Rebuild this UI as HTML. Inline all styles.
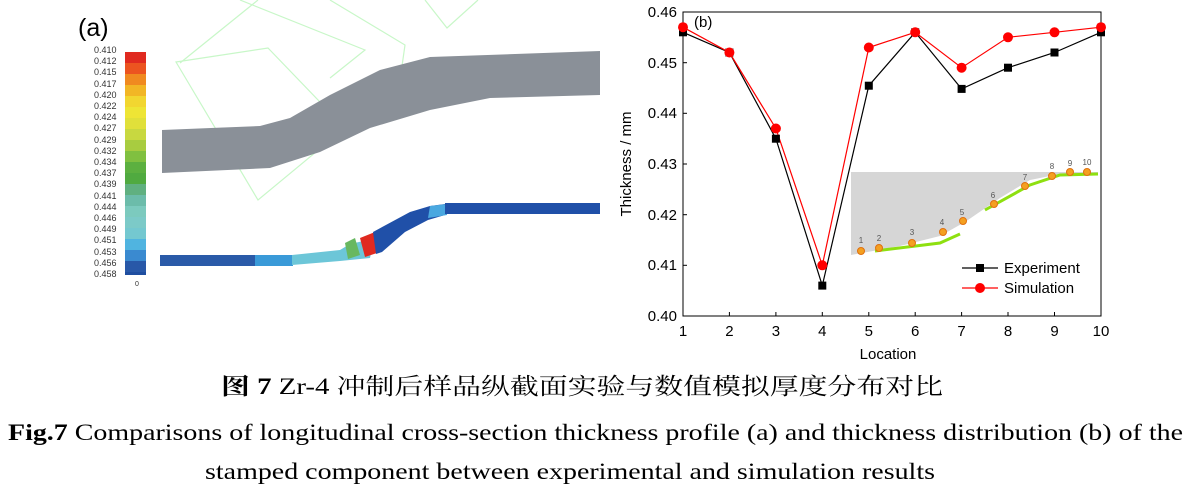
<!DOCTYPE html>
<html><head><meta charset="utf-8"><style>body{margin:0;background:#fff}svg{display:block}</style></head><body>
<svg width="1187" height="494" viewBox="0 0 1187 494" xmlns="http://www.w3.org/2000/svg">
<rect width="1187" height="494" fill="#fff"/>
<!-- watermark -->
<g fill="none" stroke="#c8f7c8" stroke-width="1.2">
<path d="M180 63 L258 0"/>
<path d="M176 62 L258 200 L345 128 L268 48 Z"/>
<path d="M240 0 L365 50 L330 78"/>
<path d="M330 0 L405 45 L400 80"/>
<path d="M425 0 L447 28 L478 0"/>
</g>
<!-- (a) -->
<text x="78" y="36" font-family="Liberation Sans,sans-serif" font-size="25">(a)</text>
<g font-family="Liberation Sans,sans-serif" font-size="9" fill="#333">
<text x="94" y="53">0.410</text><text x="94" y="64">0.412</text><text x="94" y="75">0.415</text><text x="94" y="87">0.417</text><text x="94" y="98">0.420</text><text x="94" y="109">0.422</text><text x="94" y="120">0.424</text><text x="94" y="131">0.427</text><text x="94" y="143">0.429</text><text x="94" y="154">0.432</text><text x="94" y="165">0.434</text><text x="94" y="176">0.437</text><text x="94" y="187">0.439</text><text x="94" y="199">0.441</text><text x="94" y="210">0.444</text><text x="94" y="221">0.446</text><text x="94" y="232">0.449</text><text x="94" y="243">0.451</text><text x="94" y="255">0.453</text><text x="94" y="266">0.456</text><text x="94" y="277">0.458</text>
<text x="135" y="286" font-size="7">0</text>
</g>
<g>
<rect x="125" y="52" width="21" height="11" fill="#e02a20"/><rect x="125" y="63" width="21" height="11" fill="#ec5420"/><rect x="125" y="74" width="21" height="11" fill="#f08a20"/><rect x="125" y="85" width="21" height="11" fill="#f2b625"/><rect x="125" y="96" width="21" height="11" fill="#f2d630"/><rect x="125" y="107" width="21" height="11" fill="#eee535"/><rect x="125" y="118" width="21" height="11" fill="#e0e03a"/><rect x="125" y="129" width="21" height="11" fill="#c8d840"/><rect x="125" y="140" width="21" height="11" fill="#a8cc40"/><rect x="125" y="151" width="21" height="11" fill="#80c040"/><rect x="125" y="162" width="21" height="11" fill="#5cb040"/><rect x="125" y="173" width="21" height="11" fill="#50aa40"/><rect x="125" y="184" width="21" height="11" fill="#60b080"/><rect x="125" y="195" width="21" height="11" fill="#6cbcaa"/><rect x="125" y="206" width="21" height="11" fill="#7ccabe"/><rect x="125" y="217" width="21" height="11" fill="#7ccac8"/><rect x="125" y="228" width="21" height="11" fill="#74c8d0"/><rect x="125" y="239" width="21" height="11" fill="#50b4e0"/><rect x="125" y="250" width="21" height="11" fill="#3a8ad0"/><rect x="125" y="261" width="21" height="11" fill="#2858a8"/><rect x="125" y="272" width="21" height="3" fill="#1f4ea0"/>
</g>
<!-- gray specimen -->
<path d="M162 130 L260 126 L290 118 L330 95 L380 70 L430 57 L600 51 L600 95 L490 98 L430 110 L370 128 L320 152 L270 168 L162 173 Z" fill="#8a9098"/>
<!-- simulation strip -->
<rect x="160" y="255" width="96" height="11" fill="#2a5aa8"/>
<rect x="255" y="255" width="38" height="11" fill="#3a9ad8"/>
<path d="M292 255 L340 250 L350 244 L368 240 L375 235 L370 258 L340 261 L292 265 Z" fill="#6cc6d8"/>
<path d="M345 243 L355 238 L360 255 L348 259 Z" fill="#68b860"/>
<path d="M360 238 L375 232 L380 252 L365 257 Z" fill="#e02a20"/>
<path d="M373 232 L410 212 L430 206 L445 204 L445 215 L428 220 L405 232 L382 252 L376 254 Z" fill="#2050a8"/>
<path d="M430 206 L447 204 L447 215 L428 218 Z" fill="#4aa8e0"/>
<rect x="445" y="203" width="155" height="11" fill="#2050a8"/>
<!-- chart b -->
<g font-family="Liberation Sans,sans-serif" font-size="15" fill="#000">
<rect x="683" y="12" width="418" height="304" fill="none" stroke="#000" stroke-width="1"/>
<g stroke="#000" stroke-width="1">
<line x1="683" y1="62.7" x2="687" y2="62.7"/><line x1="683" y1="113.3" x2="687" y2="113.3"/><line x1="683" y1="164" x2="687" y2="164"/><line x1="683" y1="214.7" x2="687" y2="214.7"/><line x1="683" y1="265.3" x2="687" y2="265.3"/>
<line x1="729.4" y1="316" x2="729.4" y2="312"/><line x1="775.9" y1="316" x2="775.9" y2="312"/><line x1="822.3" y1="316" x2="822.3" y2="312"/><line x1="868.8" y1="316" x2="868.8" y2="312"/><line x1="915.2" y1="316" x2="915.2" y2="312"/><line x1="961.6" y1="316" x2="961.6" y2="312"/><line x1="1008" y1="316" x2="1008" y2="312"/><line x1="1054.5" y1="316" x2="1054.5" y2="312"/>
</g>
<g text-anchor="end"><text x="677" y="17">0.46</text><text x="677" y="68">0.45</text><text x="677" y="118">0.44</text><text x="677" y="169">0.43</text><text x="677" y="220">0.42</text><text x="677" y="270">0.41</text><text x="677" y="321">0.40</text></g>
<g text-anchor="middle"><text x="683" y="336">1</text><text x="729.4" y="336">2</text><text x="775.9" y="336">3</text><text x="822.3" y="336">4</text><text x="868.8" y="336">5</text><text x="915.2" y="336">6</text><text x="961.6" y="336">7</text><text x="1008" y="336">8</text><text x="1054.5" y="336">9</text><text x="1101" y="336">10</text>
<text x="888" y="359">Location</text>
<text transform="translate(631 164) rotate(-90)">Thickness / mm</text></g>
<text x="694" y="27">(b)</text>
</g>
<!-- inset -->
<path d="M851 172 L1098 172 L1098 175 L1050 176 L1030 180 L1000 198 L965 222 L940 236 L900 246 L851 255 Z" fill="#d6d6d6"/>
<path d="M875 251 L940 243 L960 234" stroke="#8ee010" stroke-width="3" fill="none"/>
<path d="M985 210 L1030 185 L1060 175 L1098 174" stroke="#8ee010" stroke-width="3" fill="none"/>
<g fill="#f4a020" stroke="#e07010" stroke-width="1">
<circle cx="861" cy="251" r="3.5"/><circle cx="879" cy="248" r="3.5"/><circle cx="912" cy="243" r="3.5"/><circle cx="943" cy="232" r="3.5"/><circle cx="963" cy="221" r="3.5"/><circle cx="994" cy="204" r="3.5"/><circle cx="1025" cy="186" r="3.5"/><circle cx="1052" cy="176" r="3.5"/><circle cx="1070" cy="172" r="3.5"/><circle cx="1087" cy="172" r="3.5"/>
</g>
<g font-family="Liberation Sans,sans-serif" font-size="8" fill="#555" text-anchor="middle">
<text x="861" y="243">1</text><text x="879" y="241">2</text><text x="912" y="235">3</text><text x="942" y="225">4</text><text x="962" y="215">5</text><text x="993" y="198">6</text><text x="1025" y="180">7</text><text x="1052" y="169">8</text><text x="1070" y="166">9</text><text x="1087" y="165">10</text>
</g>
<!-- series -->
<polyline fill="none" stroke="#000" stroke-width="1.2" points="683,32.3 729.4,52.5 775.9,138.7 822.3,285.6 868.8,85.7 915.2,32.3 961.6,88.9 1008,67.7 1054.5,52.5 1101,32.3"/>
<polyline fill="none" stroke="#f00" stroke-width="1.2" points="683,27.2 729.4,52.5 775.9,128.5 822.3,265.3 868.8,47.5 915.2,32.3 961.6,67.7 1008,37.3 1054.5,32.3 1101,27.2"/>
<g fill="#000"><rect x="679" y="28.3" width="8" height="8"/><rect x="725.4" y="48.5" width="8" height="8"/><rect x="771.9" y="134.7" width="8" height="8"/><rect x="818.3" y="281.6" width="8" height="8"/><rect x="864.8" y="81.7" width="8" height="8"/><rect x="911.2" y="28.3" width="8" height="8"/><rect x="957.6" y="84.9" width="8" height="8"/><rect x="1004" y="63.7" width="8" height="8"/><rect x="1050.5" y="48.5" width="8" height="8"/><rect x="1097" y="28.3" width="8" height="8"/></g>
<g fill="#f00"><circle cx="683" cy="27.2" r="5"/><circle cx="729.4" cy="52.5" r="5"/><circle cx="775.9" cy="128.5" r="5"/><circle cx="822.3" cy="265.3" r="5"/><circle cx="868.8" cy="47.5" r="5"/><circle cx="915.2" cy="32.3" r="5"/><circle cx="961.6" cy="67.7" r="5"/><circle cx="1008" cy="37.3" r="5"/><circle cx="1054.5" cy="32.3" r="5"/><circle cx="1101" cy="27.2" r="5"/></g>
<!-- legend -->
<line x1="962" y1="268" x2="998" y2="268" stroke="#000" stroke-width="1.2"/><rect x="976" y="264" width="8" height="8" fill="#000"/>
<line x1="962" y1="288" x2="998" y2="288" stroke="#f00" stroke-width="1.2"/><circle cx="980" cy="288" r="5" fill="#f00"/>
<g font-family="Liberation Sans,sans-serif" font-size="15"><text x="1004" y="273">Experiment</text><text x="1004" y="293">Simulation</text></g>
<!-- captions -->
<g font-family="Liberation Serif,'Noto Serif CJK SC',serif" font-size="23" fill="#000">
<text x="221" y="394" textLength="722" lengthAdjust="spacingAndGlyphs"><tspan font-weight="bold">图 7</tspan> Zr-4 冲制后样品纵截面实验与数值模拟厚度分布对比</text>
<text x="8" y="440" textLength="1175" lengthAdjust="spacingAndGlyphs"><tspan font-weight="bold">Fig.7</tspan> Comparisons of longitudinal cross-section thickness profile (a) and thickness distribution (b) of the</text>
<text x="205" y="479" textLength="730" lengthAdjust="spacingAndGlyphs">stamped component between experimental and simulation results</text>
</g>
</svg>
</body></html>
